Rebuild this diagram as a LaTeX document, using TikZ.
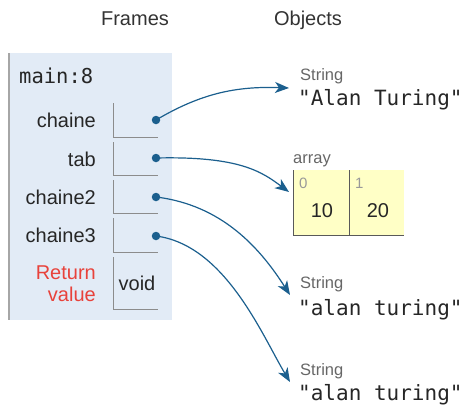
\documentclass[tikz,border=0pt]{standalone}
\usepackage{fontspec}
\setmainfont{Liberation Sans}
\setmonofont{DejaVu Sans Mono}
\usetikzlibrary{arrows.meta}
\definecolor{framebg}{HTML}{E2EBF6}
\definecolor{ptblue}{HTML}{1B5F8E}
\definecolor{retred}{HTML}{E8423B}
\definecolor{heapbg}{HTML}{FFFFC6}

\begin{document}
\begin{tikzpicture}[x=1pt, y=-1pt,
    head/.style={anchor=base, inner sep=0, text=black!80, font=\fontsize{20}{24}\selectfont},
    var/.style={anchor=base east, inner sep=0, text=black!85, font=\fontsize{20}{24}\selectfont},
    tag/.style={anchor=base west, inner sep=0, text=black!60, font=\fontsize{16.5}{20}\selectfont},
    strval/.style={anchor=base west, inner sep=0, text=black!85, font=\ttfamily\fontsize{21}{25}\selectfont},
    cellline/.style={draw=black!45, line width=1pt},
    ptr/.style={circle, fill=ptblue, inner sep=0, minimum size=8.5pt},
    ref/.style={ptblue, line width=1.2pt, -{Stealth[length=14pt,width=11pt,inset=4pt]}}]
  \useasboundingbox (0,0) rectangle (467,405);

  % Headers
  \node[head] (frames) at (135,25) {Frames};
  \node[head] (objects) at (308,25) {Objects};

  % Frame
  \fill[framebg] (9,53) rectangle (172,320);
  \draw[black!35, line width=1.5pt] (9,53) -- (9,320);
  \node[anchor=base west, inner sep=0, text=black!85, font=\ttfamily\fontsize{20.5}{24}\selectfont] (main) at (19,83) {main:8};

  % Variables
  \node[var] (chaine) at (96,127) {chaine};
  \node[var] (tab) at (96,166) {tab};
  \node[var] (chaine2) at (96,204) {chaine2};
  \node[var] (chaine3) at (96,242) {chaine3};
  \node[var, align=right, text=retred] (retval) at (96,279) {Return};
  \node[var, text=retred] (retval2) at (96,301) {value};

  % Cells
  \draw[cellline] (113,103) |- (158,137);
  \draw[cellline] (113,142) |- (158,175);
  \draw[cellline] (113,180) |- (158,213);
  \draw[cellline] (113,218) |- (158,252);
  \draw[cellline] (113,257) |- (158,309);
  \node[anchor=base, inner sep=0, text=black!85, font=\fontsize{20}{24}\selectfont] (void) at (137,290) {void};

  % Pointers
  \node[ptr] (pchaine) at (156,120) {};
  \node[ptr] (ptab) at (156,158) {};
  \node[ptr] (pchaine2) at (156,197) {};
  \node[ptr] (pchaine3) at (156,236) {};

  % Objects
  \node[tag] (tag1) at (300,80) {String};
  \node[strval] (str1) at (298,105) {"Alan Turing"};
  \node[tag] (tagarr) at (293,163) {array};
  \fill[heapbg] (293,170) rectangle (404,235);
  \draw[black!65, line width=1pt] (293,170) -- (293,235) -- (404,235);
  \draw[black!65, line width=1pt] (349,170) -- (349,235);
  \node[anchor=base west, inner sep=0, text=black!40, font=\fontsize{15}{18}\selectfont] (idx0) at (299,188) {0};
  \node[anchor=base west, inner sep=0, text=black!40, font=\fontsize{15}{18}\selectfont] (idx1) at (355,188) {1};
  \node[anchor=base, inner sep=0, text=black!85, font=\fontsize{20}{24}\selectfont] (val0) at (322,217) {10};
  \node[anchor=base, inner sep=0, text=black!85, font=\fontsize{20}{24}\selectfont] (val1) at (378,217) {20};
  \node[tag] (tag2) at (300,288) {String};
  \node[strval] (str2) at (298,315) {"alan turing"};
  \node[tag] (tag3) at (300,375) {String};
  \node[strval] (str3) at (298,400) {"alan turing"};

  % Arrow ends
  \coordinate (in1) at (289,88);
  \coordinate (inarr) at (289,192);
  \coordinate (in2) at (290,295);
  \coordinate (in3) at (290,382);

  % Arrows
  \draw[ref] (pchaine.center) .. controls (200,94) and (235,86) .. (in1);
  \draw[ref] (ptab.center) .. controls (240,156) and (262,172) .. (inarr);
  \draw[ref] (pchaine2.center) .. controls (222,205) and (260,248) .. (in2);
  \draw[ref] (pchaine3.center) .. controls (225,245) and (262,335) .. (in3);
\end{tikzpicture}
\end{document}
